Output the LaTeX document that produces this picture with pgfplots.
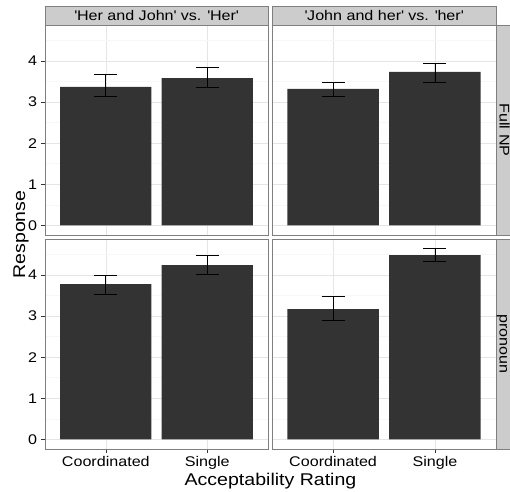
\documentclass[border=0pt]{standalone}
\usepackage{fontspec}
\setmainfont{Liberation Sans}[FakeStretch=1.15]
\usepackage{pgfplots}
\pgfplotsset{compat=1.18}
\definecolor{g20}{HTML}{333333}
\definecolor{g50}{HTML}{7F7F7F}
\definecolor{g80}{HTML}{CCCCCC}
\definecolor{g90}{HTML}{E5E5E5}
\definecolor{g98}{HTML}{F7F7F7}
\pgfplotsset{
  panel/.style={
    scale only axis, width=223pt, height=210pt,
    xmin=0.4, xmax=2.6, ymin=-0.232, ymax=4.872,
    axis line style={g50, line width=0.6pt},
    xtick={1,2}, ytick={0,1,2,3,4},
    minor ytick={0.5,1.5,2.5,3.5,4.5},
    xmajorgrids, ymajorgrids, yminorgrids,
    major grid style={g90, line width=0.6pt},
    minor grid style={g98, line width=0.6pt},
    tick align=outside, major tick length=4pt, minor tick length=0pt,
    tick style={g20, line width=0.5pt},
    xtick pos=left, ytick pos=left,
    /pgf/number format/assume math mode=true,
    ticklabel style={font=\fontsize{14}{16}\selectfont, text=black},
    xticklabels={Coordinated,Single},
    xticklabel style={yshift=0pt},
    yticklabel style={xshift=-0.5pt},
  },
  noy/.style={yticklabels={}, ytick style={draw=none}},
  nox/.style={xticklabels={}, xtick style={draw=none}},
  bars/.style={ybar, bar width=0.9, fill=g20, draw=none,
    error bars/.cd, y dir=both, y explicit,
    error bar style={black, line width=0.8pt},
    error mark options={black, line width=0.8pt, rotate=90, mark size=11.5pt}},
}
\begin{document}
\begin{tikzpicture}
\clip (0,0) rectangle (510pt,491pt);
\useasboundingbox (0,0) rectangle (510pt,491pt);
% top-left
\begin{axis}[panel, nox, at={(45pt,256pt)}, anchor=south west]
\addplot[bars] coordinates {(1,3.37) += (0,0.29) -= (0,0.24) (2,3.58) += (0,0.25) -= (0,0.22)};
\end{axis}
% top-right
\begin{axis}[panel, nox, noy, width=224pt, at={(272pt,256pt)}, anchor=south west]
\addplot[bars] coordinates {(1,3.32) += (0,0.16) -= (0,0.18) (2,3.73) += (0,0.21) -= (0,0.25)};
\end{axis}
% bottom-left
\begin{axis}[panel, at={(45pt,42pt)}, anchor=south west]
\addplot[bars] coordinates {(1,3.775) += (0,0.215) -= (0,0.25) (2,4.235) += (0,0.235) -= (0,0.22)};
\end{axis}
% bottom-right
\begin{axis}[panel, noy, width=224pt, at={(272pt,42pt)}, anchor=south west]
\addplot[bars] coordinates {(1,3.17) += (0,0.315) -= (0,0.285) (2,4.48) += (0,0.16) -= (0,0.155)};
\end{axis}
% strips
\draw[fill=g80, draw=g50, line width=0.6pt] (45pt,466pt) rectangle (268pt,485pt);
\draw[fill=g80, draw=g50, line width=0.6pt] (272pt,466pt) rectangle (496pt,485pt);
\node[font=\fontsize{14}{16}\selectfont, anchor=base] at (156.5pt,470.5pt) {\textquotesingle Her and John\textquotesingle\ vs. \textquotesingle Her\textquotesingle};
\node[font=\fontsize{14}{16}\selectfont, anchor=base] at (384pt,470.5pt) {\textquotesingle John and her\textquotesingle\ vs. \textquotesingle her\textquotesingle};
\draw[fill=g80, draw=g50, line width=0.6pt] (496pt,256pt) rectangle (516pt,466pt);
\draw[fill=g80, draw=g50, line width=0.6pt] (496pt,42pt) rectangle (516pt,252pt);
\node[rotate=-90, anchor=base, font=\fontsize{14}{16}\selectfont] at (499.5pt,361pt) {Full NP};
\node[rotate=-90, anchor=base, font=\fontsize{14}{16}\selectfont] at (499.5pt,147pt) {pronoun};
% axis titles
\node[rotate=90, anchor=base, font=\fontsize{17}{19}\selectfont] at (25pt,256.5pt) {Response};
\node[anchor=base, font=\fontsize{17}{19}\selectfont] at (270.5pt,6pt) {Acceptability Rating};
\end{tikzpicture}
\end{document}
